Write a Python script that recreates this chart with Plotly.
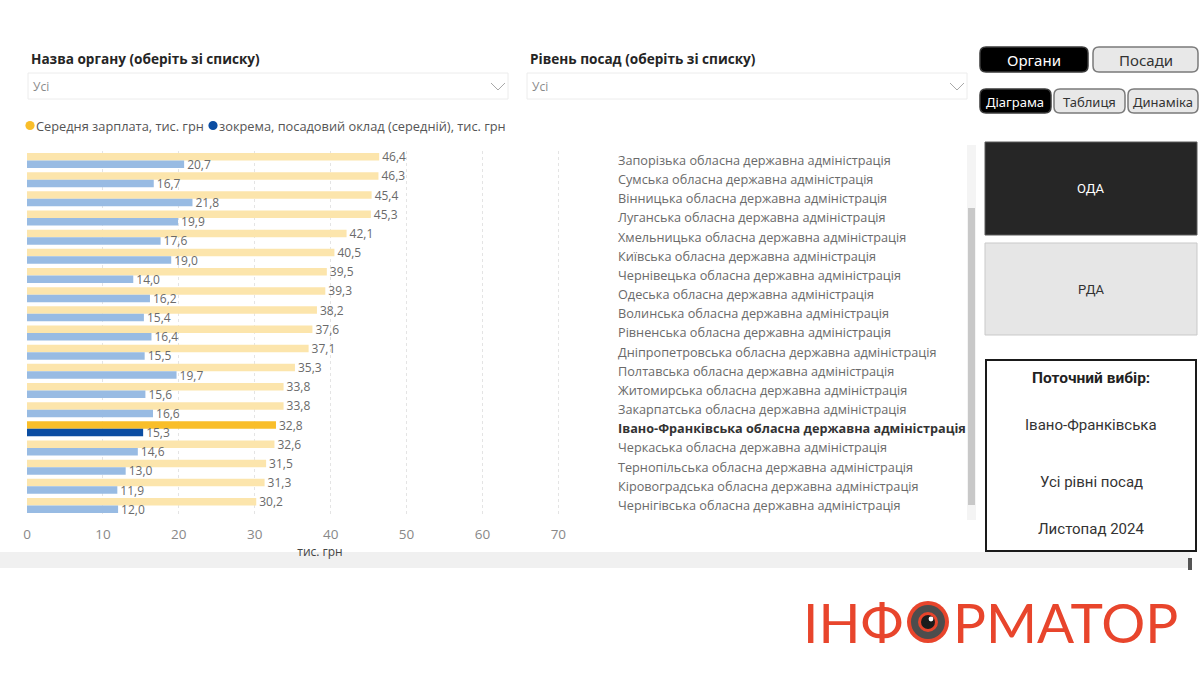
import plotly.graph_objects as go

W, H = 1200, 675

# ---------------- data ----------------
regions = ["Запорізька", "Сумська", "Вінницька", "Луганська", "Хмельницька",
           "Київська", "Чернівецька", "Одеська", "Волинська", "Рівненська",
           "Дніпропетровська", "Полтавська", "Житомирська", "Закарпатська",
           "Івано-Франківська", "Черкаська", "Тернопільська", "Кіровоградська",
           "Чернігівська"]
avg_salary = [46.4, 46.3, 45.4, 45.3, 42.1, 40.5, 39.5, 39.3, 38.2, 37.6,
              37.1, 35.3, 33.8, 33.8, 32.8, 32.6, 31.5, 31.3, 30.2]
base_salary = [20.7, 16.7, 21.8, 19.9, 17.6, 19.0, 14.0, 16.2, 15.4, 16.4,
               15.5, 19.7, 15.6, 16.6, 15.3, 14.6, 13.0, 11.9, 12.0]
selected = "Івано-Франківська"
suffix = " обласна державна адміністрація"
x_ticks = [0, 10, 20, 30, 40, 50, 60, 70]

series1_name = "Середня зарплата, тис. грн"
series2_name = "зокрема, посадовий оклад (середній), тис. грн"

# ---------------- colours ----------------
Y_LIGHT, Y_DARK = "#FCE5AC", "#F9BE2A"
B_LIGHT, B_DARK = "#98BBE3", "#0B4DA2"


def px(x):
    return x / W


def py(y):
    return 1 - y / H


labels = [r + suffix for r in regions]
ticktext = [("<b><span style='color:#333'>%s</span></b>" % l) if r == selected else l
            for r, l in zip(regions, labels)]
fmt = lambda v: ("%.1f" % v).replace(".", ",")

fig = go.Figure()
fig.add_trace(go.Bar(
    y=labels, x=avg_salary, orientation="h", name=series1_name,
    marker=dict(color=[Y_DARK if r == selected else Y_LIGHT for r in regions], line_width=0),
    text=[fmt(v) for v in avg_salary], textposition="outside", cliponaxis=False,
    constraintext="none", textfont=dict(size=12, color="#6a6a6a", family="Open Sans"),
    showlegend=False, hoverinfo="x+y"))
fig.add_trace(go.Bar(
    y=labels, x=base_salary, orientation="h", name=series2_name,
    marker=dict(color=[B_DARK if r == selected else B_LIGHT for r in regions], line_width=0),
    text=[fmt(v) for v in base_salary], textposition="outside", cliponaxis=False,
    constraintext="none", textfont=dict(size=12, color="#6a6a6a", family="Open Sans"),
    showlegend=False, hoverinfo="x+y"))

# ---------------- decorations ----------------
shapes = []
annotations = []


def rect(x0, y0, x1, y1, fill, line_color=None, line_width=0, layer="below"):
    shapes.append(dict(type="rect", xref="paper", yref="paper",
                       x0=px(x0), x1=px(x1), y0=py(y1), y1=py(y0),
                       fillcolor=fill, layer=layer,
                       line=dict(color=line_color or fill, width=line_width)))


def rrect(x0, y0, x1, y1, r, fill, line_color, line_width, layer="below"):
    def P(x, y):
        return "%f,%f" % (px(x), py(y))
    path = ("M " + P(x0 + r, y0) + " L " + P(x1 - r, y0) + " Q " + P(x1, y0) + " " + P(x1, y0 + r) +
            " L " + P(x1, y1 - r) + " Q " + P(x1, y1) + " " + P(x1 - r, y1) +
            " L " + P(x0 + r, y1) + " Q " + P(x0, y1) + " " + P(x0, y1 - r) +
            " L " + P(x0, y0 + r) + " Q " + P(x0, y0) + " " + P(x0 + r, y0) + " Z")
    shapes.append(dict(type="path", xref="paper", yref="paper", path=path,
                       fillcolor=fill, layer=layer,
                       line=dict(color=line_color, width=line_width)))


def circle(cx, cy, r, fill, line_color=None, line_width=0):
    shapes.append(dict(type="circle", xref="paper", yref="paper",
                       x0=px(cx - r), x1=px(cx + r), y0=py(cy + r), y1=py(cy - r),
                       fillcolor=fill, layer="above",
                       line=dict(color=line_color or fill, width=line_width)))


def text(x, y, s, size, color, family="Open Sans", xanchor="left", bold=False):
    annotations.append(dict(xref="paper", yref="paper", x=px(x), y=py(y), text=("<b>%s</b>" % s) if bold else s,
                            showarrow=False, xanchor=xanchor, yanchor="middle", borderpad=0,
                            font=dict(size=size, color=color, family=family)))


def chevron(x, y):
    path = "M %f,%f L %f,%f L %f,%f" % (px(x - 7), py(y - 4), px(x), py(y + 3), px(x + 7), py(y - 4))
    shapes.append(dict(type="path", xref="paper", yref="paper", path=path,
                       line=dict(color="#a8a8a8", width=1)))


# filters
text(30, 58, "Назва органу (оберіть зі списку)", 13.6, "#252525", bold=True)
rect(28, 73, 508, 99, "#ffffff", "#ececec", 1)
text(32, 87, "Усі", 12, "#8a8a8a")
chevron(498, 87)
text(529, 58, "Рівень посад (оберіть зі списку)", 13.6, "#252525", bold=True)
rect(527, 73, 967, 99, "#ffffff", "#ececec", 1)
text(531, 87, "Усі", 12, "#8a8a8a")
chevron(957, 87)

# legend (dots + text)
circle(30, 125.5, 4.6, Y_DARK)
text(34.5, 126, series1_name, 12.8, "#555555")
circle(213, 125.5, 4.6, B_DARK)
text(217.5, 126, series2_name, 12.8, "#555555")

# scrollbar
rect(967, 145, 976, 520, "#f4f4f4")
rect(968, 208, 975, 505, "#c8c8c8")

# buttons
rrect(980, 47, 1088, 72, 6, "#000000", "#3a3a3a", 1.5)
text(1034, 60, "Органи", 15, "#ffffff", "Noto Sans", "center")
rrect(1093, 47, 1198, 72, 6, "#e8e8e8", "#7a7a7a", 1.5)
text(1145.5, 60, "Посади", 15, "#333333", "Noto Sans", "center")
rrect(980, 89, 1051, 113, 6, "#000000", "#3a3a3a", 1.5)
text(1015.5, 101.5, "Діаграма", 13, "#ffffff", "Noto Sans", "center")
rrect(1054, 89, 1125, 113, 6, "#e8e8e8", "#7a7a7a", 1.5)
text(1089.5, 101.5, "Таблиця", 13, "#333333", "Noto Sans", "center")
rrect(1128, 89, 1198, 113, 6, "#e8e8e8", "#7a7a7a", 1.5)
text(1163, 101.5, "Динаміка", 13, "#333333", "Noto Sans", "center")

# ОДА / РДА tiles
rect(985, 142, 1197, 235, "#262626", "#5a5a5a", 1)
text(1091, 188, "ОДА", 13, "#ffffff", "Roboto", "center")
rect(985, 243, 1197, 335, "#e6e6e6", "#c9c9c9", 1)
text(1091, 289, "РДА", 13, "#333333", "Roboto", "center")

# current selection
rect(986, 360, 1196, 551, "#ffffff", "#1a1a1a", 2)
text(1091, 378, "Поточний вибір:", 15.5, "#222222", "Roboto", "center", bold=True)
text(1091, 425, selected, 15, "#333333", "Roboto", "center")
text(1091, 482, "Усі рівні посад", 15, "#333333", "Roboto", "center")
text(1091, 529, "Листопад 2024", 15, "#333333", "Roboto", "center")

# bottom strip
rect(0, 552, 1190, 568, "#f0f0f0", layer="above")
rect(1188, 558, 1192, 570, "#555555", layer="above")

# logo
RED = "#E8452C"
text(904, 622, "ІНФ", 55, RED, "Lato", "right")
text(952, 622, "РМАТОР", 55, RED, "Lato", "left")
circle(928, 622, 21, RED)
circle(928, 622, 17, "#4d4d4d")
circle(928, 622, 10, RED)
circle(928, 622, 7, "#1c1c1c")
circle(931, 619, 2.4, "#ffffff")

fig.update_layout(
    width=W, height=H, margin=dict(l=0, r=0, t=0, b=0, autoexpand=False),
    paper_bgcolor="#ffffff", plot_bgcolor="#ffffff",
    barmode="group", bargap=0.22, bargroupgap=0,
    font=dict(family="Open Sans", color="#666666"),
    showlegend=False,
    shapes=shapes, annotations=annotations,
    xaxis=dict(domain=[px(27), px(613)], range=[0, 77.2], tickvals=x_ticks, automargin=False,
               showgrid=True, gridcolor="#e4e4e4", griddash="dot", gridwidth=1,
               zeroline=False, showline=False, ticks="", ticklabelstandoff=9,
               tickfont=dict(size=13.5, color="#888888"),
               title=dict(text="тис. грн", standoff=1, font=dict(size=12, color="#444444"))),
    yaxis=dict(domain=[py(515.1), py(150.9)], side="right", autorange="reversed", automargin=False,
               tickmode="array", tickvals=labels, ticktext=ticktext,
               showgrid=False, zeroline=False, showline=False, ticks="",
               ticklabelstandoff=4,
               tickfont=dict(size=12.7, color="#6a6a6a", family="Open Sans")),
)

fig.write_html("out.html", config={"displayModeBar": False},
               post_script="document.body.style.margin='0';")
